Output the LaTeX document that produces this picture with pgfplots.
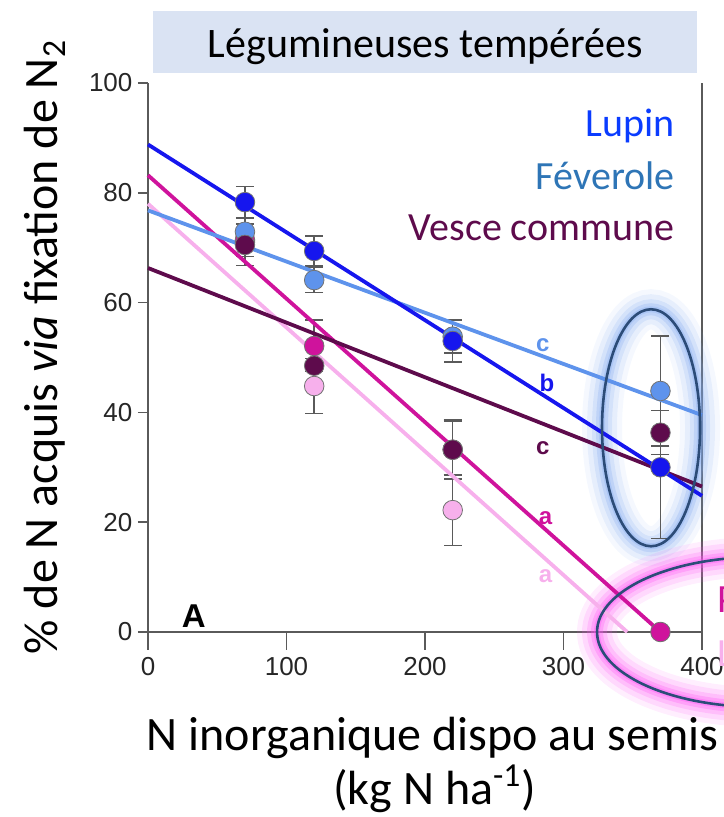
\documentclass[border=0pt]{standalone}
\usepackage{fontspec}
\setmainfont{Carlito}
\newfontfamily\arialf{Liberation Sans}
\usepackage{pgfplots}
\pgfplotsset{compat=1.18}
\definecolor{lupin}{HTML}{1616EE}
\definecolor{lupintxt}{HTML}{0A3CFF}
\definecolor{fev}{HTML}{5E93EC}
\definecolor{fevtxt}{HTML}{2E75B6}
\definecolor{vesce}{HTML}{5E0B4C}
\definecolor{pois}{HTML}{CF139C}
\definecolor{lent}{HTML}{F7B0EC}
\definecolor{titlebg}{HTML}{DAE3F3}
\definecolor{glowb}{HTML}{7FA8F0}
\definecolor{glowp}{HTML}{FF55F5}
\definecolor{ellc}{HTML}{2C4C78}
\definecolor{axc}{HTML}{5A5A5A}

\pgfplotsset{
  errs/.style={only marks, mark=none, forget plot,
    error bars/.cd, y dir=both, y explicit,
    error bar style={draw=axc, line width=0.7pt},
    error mark options={rotate=90, mark size=4.5pt, draw=axc, line width=0.7pt}},
  pts/.style={only marks, mark=*, mark size=4.9pt, forget plot,
    mark options={fill=#1, draw=black!55, line width=0.4pt}},
  fit/.style={#1, line width=1.9pt, forget plot},
}

\begin{document}
\begin{tikzpicture}
\begin{axis}[
  x=0.6925pt, y=2.745pt,
  xmin=0, xmax=400, ymin=0, ymax=100,
  axis x line*=bottom, axis y line*=left,
  axis line style={axc, line width=0.75pt},
  xtick={0,100,...,400}, ytick={0,20,...,100},
  tick align=outside,
  xtick style={axc, line width=0.75pt, /pgfplots/major tick length=9pt},
  ytick style={axc, line width=0.75pt, /pgfplots/major tick length=5pt},
  ticklabel style={font=\arialf\fontsize{13}{15}\selectfont, text=black!85},
  xticklabel style={yshift=-5pt},
  /pgf/number format/assume math mode=true,
  clip=false,
]
% cadre : titre et bord droit
\fill[titlebg] (axis cs:3.6,101.8) rectangle (axis cs:396.4,113.1);
\node[anchor=base, font=\fontsize{21}{25}\selectfont] at (axis cs:200.4,104.6) {Légumineuses tempérées};
\draw[axc, line width=0.75pt] (axis cs:400,0) -- (axis cs:400,100);

% halos
\draw[glowb, line width=20pt, opacity=0.08] (axis cs:363.2,37.2) ellipse [x radius=24.5pt, y radius=59.25pt];
\draw[glowb, line width=15pt, opacity=0.12] (axis cs:363.2,37.2) ellipse [x radius=24.5pt, y radius=59.25pt];
\draw[glowb, line width=10pt, opacity=0.18] (axis cs:363.2,37.2) ellipse [x radius=24.5pt, y radius=59.25pt];
\draw[glowb, line width=6pt, opacity=0.25] (axis cs:363.2,37.2) ellipse [x radius=24.5pt, y radius=59.25pt];
\draw[glowb, line width=3pt, opacity=0.3] (axis cs:363.2,37.2) ellipse [x radius=24.5pt, y radius=59.25pt];
\draw[glowp, line width=20pt, opacity=0.1] (axis cs:441.9,0) ellipse [x radius=81.5pt, y radius=37.5pt];
\draw[glowp, line width=15pt, opacity=0.14] (axis cs:441.9,0) ellipse [x radius=81.5pt, y radius=37.5pt];
\draw[glowp, line width=10pt, opacity=0.2] (axis cs:441.9,0) ellipse [x radius=81.5pt, y radius=37.5pt];
\draw[glowp, line width=6pt, opacity=0.28] (axis cs:441.9,0) ellipse [x radius=81.5pt, y radius=37.5pt];
\draw[glowp, line width=3pt, opacity=0.35] (axis cs:441.9,0) ellipse [x radius=81.5pt, y radius=37.5pt];

% lentille (rose clair)
\addplot[errs] coordinates {(70,71) +- (0,0) (120,44.8) +- (0,5) (220,22.2) +- (0,6.4)};
\addplot[pts=lent] coordinates {(70,71) (120,44.8) (220,22.2)};
% pois (magenta)
\addplot[errs] coordinates {(70,71.4) +- (0,3) (120,52.1) +- (0,4.7) (220,33.2) +- (0,5.2) (370,0) +- (0,0)};
\addplot[pts=pois] coordinates {(70,71.4) (120,52.1) (220,33.2) (370,0)};
% féverole
\addplot[errs] coordinates {(70,72.9) +- (0,2.5) (120,64.1) +- (0,2.3) (220,53.8) +- (0,3) (370,43.9) +- (0,10)};
\addplot[pts=fev] coordinates {(70,72.9) (120,64.1) (220,53.8) (370,43.9)};
% lupin (barres)
\addplot[errs] coordinates {(70,78.3) +- (0,2.9) (120,69.4) +- (0,2.7) (220,53.0) +- (0,3.8) (370,30.0) +- (0,13)};
% vesce commune
\addplot[errs] coordinates {(70,70.5) +- (0,3.7) (120,48.5) +- (0,3.2) (220,33.2) +- (0,5.4) (370,36.3) +- (0,4)};
\addplot[pts=vesce] coordinates {(70,70.5) (120,48.5) (220,33.2) (370,36.3)};
% lupin (points)
\addplot[pts=lupin] coordinates {(70,78.3) (120,69.4) (220,53.0) (370,30.0)};

% droites
\addplot[fit=lent] coordinates {(0,78) (346,0)};
\addplot[fit=pois] coordinates {(0,83.2) (370,0)};
\addplot[fit=vesce] coordinates {(0,66.3) (400,26.5)};
\addplot[fit=fev] coordinates {(0,76.8) (400,39.5)};
\addplot[fit=lupin] coordinates {(0,88.8) (400,24.8)};

% ellipses
\draw[ellc, line width=1.3pt] (axis cs:363.2,37.2) ellipse [x radius=24.5pt, y radius=59.25pt];
\draw[ellc, line width=1.3pt] (axis cs:441.9,0) ellipse [x radius=81.5pt, y radius=37.5pt];

% lettres
\node[font=\arialf\bfseries\fontsize{12}{14}\selectfont, text=fev] at (axis cs:285,52.3) {c};
\node[font=\arialf\bfseries\fontsize{12}{14}\selectfont, text=lupin] at (axis cs:288,45.4) {b};
\node[font=\arialf\bfseries\fontsize{12}{14}\selectfont, text=vesce] at (axis cs:285,33.5) {c};
\node[font=\arialf\bfseries\fontsize{12}{14}\selectfont, text=pois] at (axis cs:287,20.8) {a};
\node[font=\arialf\bfseries\fontsize{12}{14}\selectfont, text=lent] at (axis cs:287,10.2) {a};
\node[anchor=base, font=\arialf\bfseries\fontsize{16.5}{18}\selectfont] at (axis cs:33,0.9) {A};

% noms des espèces
\node[anchor=base east, inner sep=0pt, font=\fontsize{20}{24}\selectfont, text=lupintxt] at (axis cs:380.4,90.2) {Lupin};
\node[anchor=base east, inner sep=0pt, font=\fontsize{20}{24}\selectfont, text=fevtxt] at (axis cs:380.4,80.6) {Féverole};
\node[anchor=base east, inner sep=0pt, font=\fontsize{20}{24}\selectfont, text=vesce] at (axis cs:380.4,71.4) {Vesce commune};
\node[anchor=base west, inner sep=0pt, font=\fontsize{20}{24}\selectfont, text=pois] at (axis cs:411,3.5) {Pois};
\node[anchor=base west, inner sep=0pt, font=\fontsize{20}{24}\selectfont, text=lent] at (axis cs:411,-6.2) {Lentille};

% titres des axes
\node[anchor=base, font=\fontsize{24}{28}\selectfont] at (axis cs:205.6,-21.5) {N inorganique dispo au semis};
\node[anchor=base, font=\fontsize{24}{28}\selectfont] at (axis cs:207,-31.4) {(kg N ha\textsuperscript{-1})};
\node[rotate=90, font=\fontsize{24}{28}\selectfont] at (axis cs:-74.4,51.9) {\% de N acquis \textit{via} fixation de N\textsubscript{2}};

\coordinate (bbsw) at (axis cs:-106.86,-33.70);
\coordinate (bbne) at (axis cs:415.88,115.12);
\end{axis}
\pgfresetboundingbox
\useasboundingbox (bbsw) rectangle (bbne);
\end{tikzpicture}
\end{document}
